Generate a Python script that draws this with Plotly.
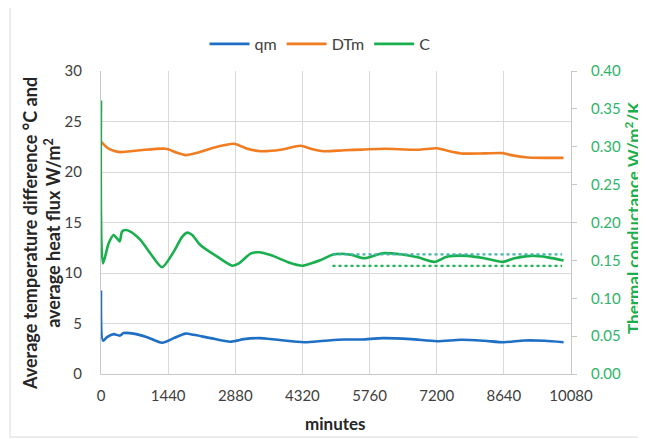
import plotly.graph_objects as go

# ---- data ----
x_ticks = [0, 1440, 2880, 4320, 5760, 7200, 8640, 10080]

qm_t = [0, 43, 128, 270, 400, 485, 700, 990, 1310, 1561, 1812, 1990, 2349, 2780,
        3065, 3390, 3782, 4355, 4784, 5214, 5600, 6040, 6648, 7207, 7723, 8220,
        8640, 9083, 9513, 9920]
qm_v = [8.26, 3.3, 3.65, 3.95, 3.8, 4.05, 4.0, 3.65, 3.1, 3.55, 4.0, 3.88, 3.55, 3.2,
        3.45, 3.55, 3.39, 3.15, 3.29, 3.42, 3.42, 3.55, 3.45, 3.25, 3.39, 3.29,
        3.15, 3.32, 3.29, 3.15]

dtm_t = [0, 128, 270, 415, 845, 1390, 1633, 1812, 2063, 2493, 2850, 3137, 3424,
         3853, 4284, 4498, 4780, 5214, 5600, 6073, 6791, 7207, 7430, 7723, 8220,
         8618, 8798, 9155, 9920]
dtm_v = [23.0, 22.43, 22.1, 21.97, 22.16, 22.3, 21.9, 21.67, 21.9, 22.5, 22.8, 22.3,
         22.06, 22.2, 22.6, 22.3, 22.06, 22.16, 22.22, 22.3, 22.2, 22.35, 22.1,
         21.84, 21.84, 21.87, 21.67, 21.44, 21.4]

c_t = [0, 43, 164, 270, 343, 400, 451, 522, 630, 845, 1060, 1310, 1561, 1740, 1850,
       1956, 2134, 2493, 2820, 2958, 3209, 3390, 3639, 3997, 4320, 4498, 4713, 5000,
       5358, 5640, 6040, 6433, 6791, 7150, 7430, 7866, 8220, 8617, 8868, 9226, 9584,
       9920]
c_v = [0.361, 0.146, 0.1726, 0.1835, 0.179, 0.175, 0.188, 0.190, 0.188, 0.177, 0.159,
       0.141, 0.1615, 0.181, 0.1866, 0.1835, 0.170, 0.155, 0.143, 0.146, 0.159,
       0.1607, 0.157, 0.148, 0.143, 0.146, 0.1506, 0.158, 0.1575, 0.1528, 0.1594,
       0.158, 0.154, 0.148, 0.155, 0.156, 0.1528, 0.148, 0.1528, 0.156, 0.154,
       0.1497]

band_t = [4965, 9890]
band_upper = [0.158, 0.158]
band_lower = [0.1427, 0.1427]

BLUE = "#1f6fc4"
ORANGE = "#f07d22"
GREEN = "#1aaf4e"
GRID = "#d9d9d9"
FONT = "Lato"

fig = go.Figure()
fig.add_trace(go.Scatter(x=qm_t, y=qm_v, name="qm", mode="lines",
                         line=dict(color=BLUE, width=2.6, shape="spline", smoothing=0.7)))
fig.add_trace(go.Scatter(x=dtm_t, y=dtm_v, name="DTm", mode="lines",
                         line=dict(color=ORANGE, width=2.6, shape="spline", smoothing=0.7)))
fig.add_trace(go.Scatter(x=c_t, y=c_v, name="C", mode="lines", yaxis="y2",
                         line=dict(color=GREEN, width=2.6, shape="spline", smoothing=0.7)))
fig.add_trace(go.Scatter(x=band_t, y=band_upper, mode="lines", yaxis="y2", showlegend=False,
                         line=dict(color="#45b3b0", width=2.2, dash="dot")))
fig.add_trace(go.Scatter(x=band_t, y=band_lower, mode="lines", yaxis="y2", showlegend=False,
                         line=dict(color="#22b35a", width=2.2, dash="dot")))

# page body has an 8px margin, so the figure is drawn at (8, 8)
OFF = 8
W, H = 646 - OFF, 439 - OFF
L, T = 93, 63
PW, PH = 470, 303
R = W - L - PW
B = H - T - PH

def px(x):  # reference page x -> paper
    return (x - OFF - L) / PW

def py(y):  # reference page y -> paper
    return (T + PH - (y - OFF)) / PH

fig.update_layout(
    width=W, height=H,
    margin=dict(l=L, r=R, t=T, b=B),
    paper_bgcolor="white", plot_bgcolor="white",
    font=dict(family=FONT, size=15, color="#404040"),
    showlegend=True,
    legend=dict(orientation="h", x=px(320), xanchor="center", y=py(44), yanchor="middle",
                font=dict(size=16, color="#404040"), itemwidth=40, tracegroupgap=0),
    xaxis=dict(range=[0, 10080], tickvals=x_ticks, ticktext=[str(v) for v in x_ticks],
               showgrid=True, gridcolor=GRID, gridwidth=1, zeroline=False,
               showline=True, linecolor="#c8c8c8", linewidth=1, ticks="",
               ticklabelstandoff=8),
    yaxis=dict(range=[0, 30], dtick=5, showgrid=True, gridcolor=GRID, gridwidth=1,
               zeroline=False, showline=True, linecolor="#c8c8c8", linewidth=1,
               ticks="", ticklabelstandoff=15),
    yaxis2=dict(range=[0, 0.40], dtick=0.05, tickformat=".2f", overlaying="y", side="right",
                showgrid=False, zeroline=False, showline=True, linecolor="#c8c8c8",
                linewidth=1, ticks="outside", ticklen=5, tickcolor="#c8c8c8",
                tickfont=dict(color="#2fb36a", size=15), ticklabelstandoff=11),
    shapes=[dict(type="rect", xref="paper", yref="paper",
                 x0=px(10), x1=px(645), y0=py(437), y1=py(7),
                 line=dict(color="#d9d9d9", width=1), fillcolor="rgba(0,0,0,0)",
                 layer="below")],
    annotations=[
        dict(text="<b>Average temperature difference °C and<br>average heat flux W/m<sup>2</sup></b>",
             xref="paper", yref="paper", x=px(41), y=py(234), textangle=-90,
             showarrow=False, font=dict(size=18, color="#262626", family=FONT),
             xanchor="center", yanchor="middle"),
        dict(text="<b>Thermal conductance W/m<sup>2</sup>/K</b>",
             xref="paper", yref="paper", x=px(632), y=py(218), textangle=-90,
             showarrow=False, font=dict(size=17, color=GREEN, family=FONT),
             xanchor="center", yanchor="middle"),
        dict(text="<b>minutes</b>", xref="paper", yref="paper", x=px(335), y=py(423),
             showarrow=False, font=dict(size=17, color="#262626", family=FONT),
             xanchor="center", yanchor="middle"),
    ],
)

fig.write_html("out.html")
